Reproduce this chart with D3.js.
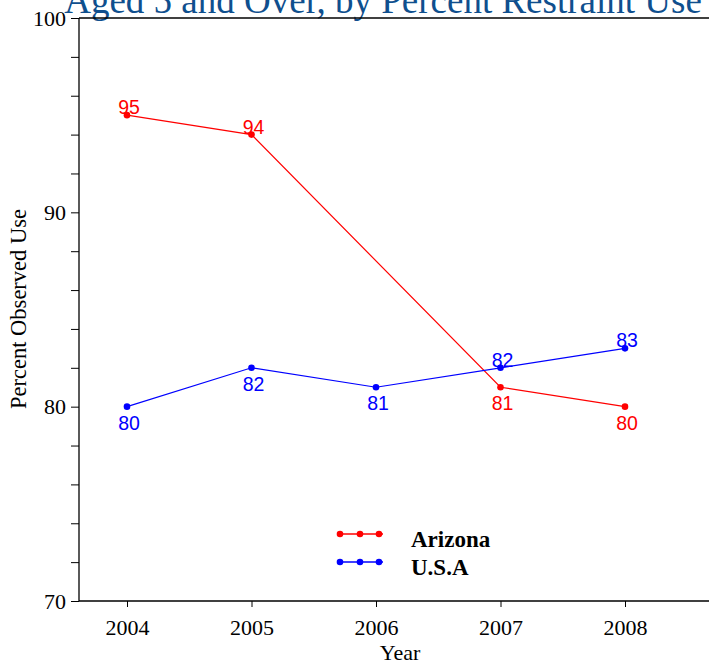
<!DOCTYPE html>
<html>
<head>
<meta charset="utf-8">
<script src="https://cdn.jsdelivr.net/npm/d3@7"></script>
<style>
  body { margin: 0; background: #fff; }
  svg { display: block; }
</style>
</head>
<body>
<svg id="chart" width="709" height="664"></svg>
<script>
// data
var years = [2004, 2005, 2006, 2007, 2008];
var arizona = [95, 94, null, 81, 80];
var usa = [80, 82, 81, 82, 83];
var arizonaLabelPos = ["above", "above", null, "below", "below"];
var usaLabelPos = ["below", "below", "below", "above", "above"];
var yMajor = [70, 80, 90, 100];
var seriesNames = ["Arizona", "U.S.A"];
var seriesColors = ["#ff0000", "#0000ff"];

var svg = d3.select("#chart");
var serif = "'Liberation Serif', 'Times New Roman', serif";
var sans = "'Liberation Sans', Arial, sans-serif";

// 2004 -> 127px, 2008 -> 625px
var x = d3.scaleLinear().domain([2004, 2008]).range([127, 625]);
var y = d3.scaleLinear().domain([70, 100]).range([601, 18]);
var left = 79, right = 709;

// title (cut off at the top in the original)
svg.append("text")
  .attr("x", 383).attr("y", 13)
  .attr("text-anchor", "middle")
  .attr("font-family", serif).attr("font-size", 37)
  .attr("fill", "#0f4f8e")
  .text("Aged 5 and Over, by Percent Restraint Use");

// top frame line goes to the right edge, no right border
svg.append("line").attr("x1", left).attr("x2", right).attr("y1", y(100)).attr("y2", y(100))
  .attr("stroke", "#000").attr("stroke-width", 1.3);

// y axis with minor ticks every 2
var yAxis = d3.axisLeft(y)
  .tickValues(d3.range(70, 101, 2))
  .tickSize(8).tickPadding(5)
  .tickFormat(function(d) { return yMajor.indexOf(d) >= 0 ? d : ""; });
var gy = svg.append("g").attr("transform", "translate(" + left + ",0)").call(yAxis);
gy.select(".domain").attr("d", "M0," + y(100) + "V" + y(70)).attr("stroke-width", 1.3);
gy.selectAll("text").attr("font-family", serif).attr("font-size", 22).attr("fill", "#000");

// x axis
var xAxis = d3.axisBottom(x).tickValues(years).tickFormat(d3.format("d")).tickSize(6).tickPadding(12);
var gx = svg.append("g").attr("transform", "translate(0," + y(70) + ")").call(xAxis);
gx.select(".domain").attr("d", "M" + left + ",0H" + right).attr("stroke-width", 1.3);
gx.selectAll("text").attr("font-family", serif).attr("font-size", 22).attr("fill", "#000");

// axis titles
svg.append("text")
  .attr("x", 400).attr("y", 660).attr("text-anchor", "middle")
  .attr("font-family", serif).attr("font-size", 22)
  .text("Year");
svg.append("text")
  .attr("transform", "translate(26,309) rotate(-90)")
  .attr("text-anchor", "middle")
  .attr("font-family", serif).attr("font-size", 22.5)
  .text("Percent Observed Use");

// series
var series = [
  { values: arizona, pos: arizonaLabelPos, color: seriesColors[0] },
  { values: usa, pos: usaLabelPos, color: seriesColors[1] }
];

var line = d3.line()
  .defined(function(d) { return d.v != null; })
  .x(function(d) { return x(d.year); })
  .y(function(d) { return y(d.v); });

series.forEach(function(s) {
  var pts = years.map(function(yr, i) { return { year: yr, v: s.values[i], pos: s.pos[i] }; });
  var valid = pts.filter(function(d) { return d.v != null; });
  svg.append("path").datum(valid)
    .attr("d", line)
    .attr("fill", "none").attr("stroke", s.color).attr("stroke-width", 1.2);
  svg.selectAll(null).data(valid).enter().append("circle")
    .attr("cx", function(d) { return x(d.year); })
    .attr("cy", function(d) { return y(d.v); })
    .attr("r", 3.3).attr("fill", s.color);
  svg.selectAll(null).data(valid).enter().append("text")
    .attr("x", function(d) { return x(d.year) + 2; })
    .attr("y", function(d) { return y(d.v) + (d.pos === "above" ? -1 : 23); })
    .attr("text-anchor", "middle")
    .attr("font-family", sans).attr("font-size", 19.5)
    .attr("fill", s.color)
    .text(function(d) { return d.v; });
});

// legend
var legend = svg.append("g");
seriesNames.forEach(function(name, i) {
  var ly = 534 + i * 28;
  legend.append("line").attr("x1", 337).attr("x2", 383).attr("y1", ly).attr("y2", ly)
    .attr("stroke", seriesColors[i]).attr("stroke-width", 1.5);
  [340, 360, 379].forEach(function(cx) {
    legend.append("circle").attr("cx", cx).attr("cy", ly).attr("r", 3.3).attr("fill", seriesColors[i]);
  });
  legend.append("text")
    .attr("x", 411).attr("y", ly + 13)
    .attr("font-family", serif).attr("font-size", 23).attr("font-weight", "bold")
    .text(name);
});
</script>
</body>
</html>
